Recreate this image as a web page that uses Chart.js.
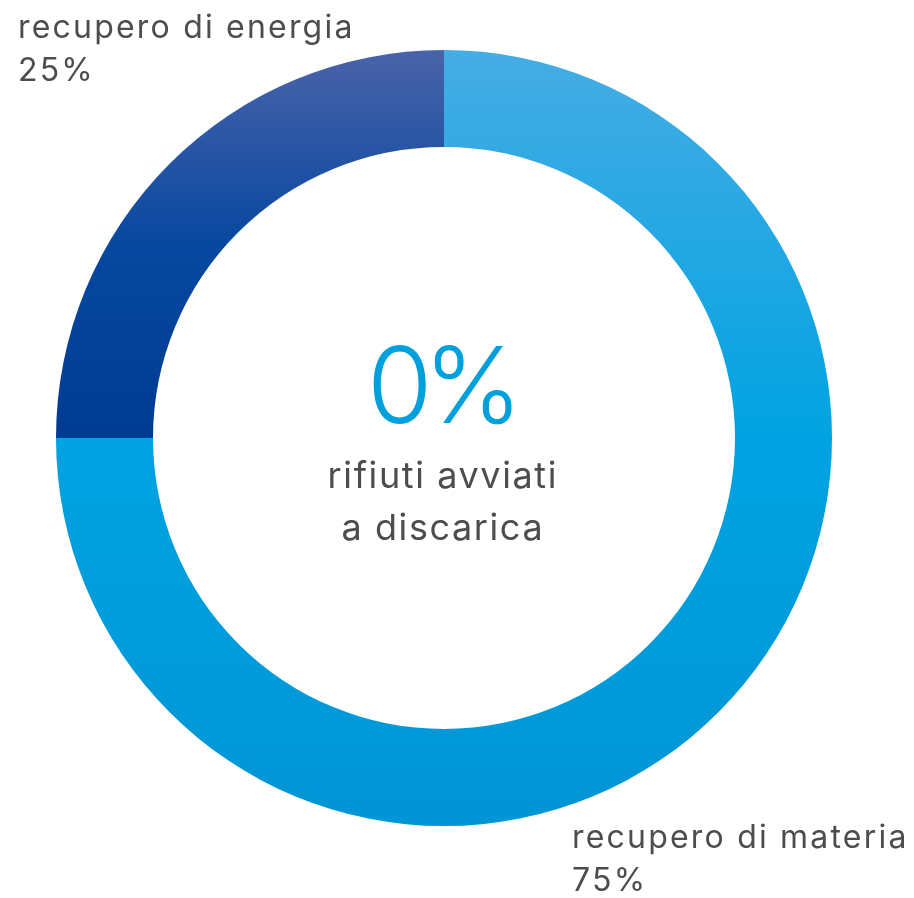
<!DOCTYPE html>
<html>
<head>
<meta charset="utf-8">
<script src="https://cdn.jsdelivr.net/npm/chart.js@4.4.1/dist/chart.umd.min.js"></script>
<style>
  html, body { margin: 0; padding: 0; background: #fff; }
  #wrap { width: 914px; height: 898px; }
</style>
</head>
<body>
<div id="wrap"><canvas id="myChart-waste" width="914" height="898"></canvas></div>
<script>
// data
const categories = ['recupero di materia', 'recupero di energia'];
const shares = [75, 25];
const centerValue = 0;
const centerLines = ['rifiuti avviati', 'a discarica'];

const textGrey = '#4d4d4d';
const fontName = 'Inter, "DejaVu Sans", sans-serif';

// label spots (left x, first baseline) for each slice
const labelSpots = [
    { x: 572, y: 848 },
    { x: 18, y: 38 }
];

function sliceGradient(context) {
    const chart = context.chart;
    const area = chart.chartArea;
    if (!area) return '#00a3e2';
    const ctx = chart.ctx;
    if (context.dataIndex === 1) {
        const g = ctx.createLinearGradient(0, area.top, 0, area.top + area.height / 2);
        g.addColorStop(0, '#4a63a9');
        g.addColorStop(0.5, '#0748a0');
        g.addColorStop(1, '#003b92');
        return g;
    }
    const g = ctx.createLinearGradient(0, area.top, 0, area.bottom);
    g.addColorStop(0, '#46ace4');
    g.addColorStop(0.5, '#00a3e2');
    g.addColorStop(1, '#0095d5');
    return g;
}

// centered text with letter spacing (trailing space compensated)
function spacedCenter(ctx, txt, x, y, sp) {
    ctx.letterSpacing = sp + 'px';
    ctx.fillText(txt, x + sp / 2, y);
}

const textPlugin = {
    id: 'textPlugin',
    afterDraw(chart) {
        const ctx = chart.ctx;
        const meta = chart.getDatasetMeta(0);
        const arc = meta.data[0];
        const cx = arc.x, cy = arc.y;
        ctx.save();
        // center
        ctx.textAlign = 'center';
        ctx.textBaseline = 'alphabetic';
        ctx.fillStyle = '#00a0dc';
        ctx.font = '300 106px ' + fontName;
        spacedCenter(ctx, centerValue + '%', cx + 1, cy - 15, -9);
        ctx.fillStyle = textGrey;
        ctx.font = '36px ' + fontName;
        spacedCenter(ctx, centerLines[0], cx - 2, cy + 50, 1.6);
        spacedCenter(ctx, centerLines[1], cx - 2, cy + 102, 1.6);
        // slice labels
        ctx.textAlign = 'left';
        ctx.font = '32px ' + fontName;
        ctx.letterSpacing = '2.2px';
        categories.forEach((c, i) => {
            const p = labelSpots[i];
            ctx.fillText(c, p.x, p.y);
            ctx.fillText(shares[i] + '%', p.x, p.y + 43);
        });
        ctx.restore();
    }
};

const wasteChart = document.getElementById('myChart-waste');
new Chart(wasteChart, {
    type: 'doughnut',
    data: {
        labels: categories,
        datasets: [
            {
            label: 'rifiuti',
            data: shares,
            backgroundColor: sliceGradient,
            borderWidth: 0
        }]
    },
    options: {
        responsive: false,
        animation: false,
        cutout: '75%',
        layout: {
            padding: { top: 50, bottom: 72, left: 56, right: 82 }
        },
        plugins: {
            legend: { display: false },
            tooltip: { enabled: false }
        }
    },
    plugins: [textPlugin]
});
</script>
</body>
</html>
